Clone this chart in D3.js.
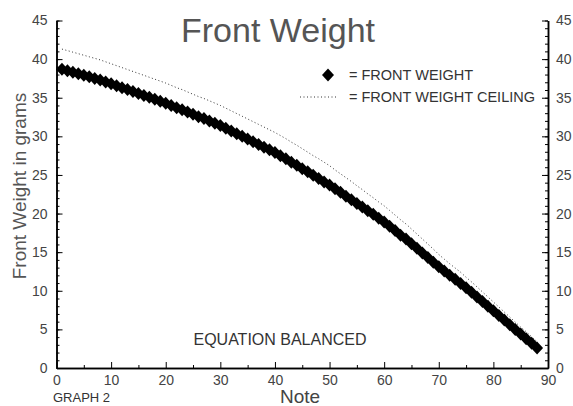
<!DOCTYPE html>
<html>
<head>
<meta charset="utf-8">
<script src="https://cdn.jsdelivr.net/npm/d3@7"></script>
<style>
  body { margin: 0; background: #fff; }
  svg text { font-family: "Liberation Sans", Arial, sans-serif; fill: #333; }
</style>
</head>
<body>
<div class="chart"></div>
<script>
// data (notes 1..88)
var notes = d3.range(1, 89)
var frontWeight = [
  38.7, 38.5, 38.3, 38.1, 37.9, 37.7, 37.5, 37.3, 37.05, 36.8,
  36.55, 36.3, 36.05, 35.8, 35.55, 35.3, 35.05, 34.8, 34.55, 34.3,
  34.0, 33.7, 33.45, 33.15, 32.85, 32.55, 32.3, 32.0, 31.7, 31.4,
  31.05, 30.7, 30.35, 30.0, 29.65, 29.3, 28.95, 28.6, 28.25, 27.9,
  27.5, 27.1, 26.65, 26.25, 25.8, 25.4, 24.95, 24.55, 24.1, 23.7,
  23.2, 22.75, 22.25, 21.8, 21.3, 20.85, 20.35, 19.9, 19.4, 18.9,
  18.35, 17.8, 17.2, 16.7, 16.1, 15.5, 14.9, 14.3, 13.7, 13.1,
  12.55, 12.0, 11.5, 10.95, 10.4, 9.8, 9.2, 8.6, 8.0, 7.4,
  6.8, 6.2, 5.6, 5.0, 4.4, 3.8, 3.2, 2.6
]
var ceiling = [
  41.3, 41.1, 40.9, 40.7, 40.5, 40.3, 40.1, 39.9, 39.65, 39.4,
  39.15, 38.9, 38.65, 38.4, 38.15, 37.9, 37.65, 37.4, 37.15, 36.9,
  36.6, 36.3, 36.05, 35.75, 35.45, 35.15, 34.9, 34.6, 34.3, 34.0,
  33.65, 33.3, 32.95, 32.6, 32.25, 31.9, 31.55, 31.2, 30.85, 30.5,
  30.1, 29.7, 29.25, 28.85, 28.4, 27.95, 27.5, 27.1, 26.65, 26.2,
  25.65, 25.15, 24.65, 24.15, 23.6, 23.1, 22.55, 22.05, 21.5, 21.0,
  20.4, 19.8, 19.2, 18.65, 18.0, 17.35, 16.7, 16.05, 15.4, 14.7,
  14.1, 13.5, 12.95, 12.4, 11.75, 11.15, 10.5, 9.85, 9.2, 8.55,
  7.9, 7.25, 6.6, 5.95, 5.3, 4.7, 4.05, 3.4
]
var xTicks = [0, 10, 20, 30, 40, 50, 60, 70, 80, 90]
var xMinor = [5, 15, 25, 35, 45, 55, 65, 75, 85]
var yTicks = [0, 5, 10, 15, 20, 25, 30, 35, 40, 45]
var yMinor = d3.range(0, 46)

var w = 573
var h = 406
var mLeft = 56.5, mRight = 548, mTop = 20.5, mBottom = 368

var svg = d3.select(".chart").append("svg")
    .attr("width", w)
    .attr("height", h)

var xScale = d3.scaleLinear().domain([0, 90]).range([mLeft, mRight])
var yScale = d3.scaleLinear().domain([0, 45]).range([mBottom, mTop])

// minor ticks
svg.append("g")
  .attr("transform", "translate(" + mLeft + ",0)")
  .call(d3.axisLeft(yScale).tickValues(yMinor).tickSize(-3).tickSizeOuter(0).tickFormat(""))
svg.append("g")
  .attr("transform", "translate(" + mRight + ",0)")
  .call(d3.axisRight(yScale).tickValues(yMinor).tickSize(-3).tickSizeOuter(0).tickFormat(""))
svg.append("g")
  .attr("transform", "translate(0," + mBottom + ")")
  .call(d3.axisBottom(xScale).tickValues(xMinor).tickSize(-3).tickSizeOuter(0).tickFormat(""))

// major ticks + labels
svg.append("g")
  .attr("transform", "translate(" + mLeft + ",0)")
  .call(d3.axisLeft(yScale).tickValues(yTicks).tickSize(-6).tickSizeOuter(0).tickPadding(9))
svg.append("g")
  .attr("transform", "translate(" + mRight + ",0)")
  .call(d3.axisRight(yScale).tickValues(yTicks).tickSize(-6).tickSizeOuter(0).tickPadding(8))
svg.append("g")
  .attr("transform", "translate(0," + mBottom + ")")
  .call(d3.axisBottom(xScale).tickValues(xTicks).tickSize(-6).tickSizeOuter(0).tickPadding(7))

svg.selectAll(".domain").attr("stroke", "#000").attr("stroke-width", 1.5)
svg.selectAll(".tick line").attr("stroke", "#000")
svg.selectAll(".tick text")
  .style("font-size", "14px")
  .style("fill", "#444")
  .attr("font-family", null)

// ceiling (dotted)
var line = d3.line()
  .x(function(d, i){ return xScale(notes[i]) })
  .y(function(d){ return yScale(d) })

svg.append("path")
  .datum(ceiling)
  .attr("d", line)
  .attr("fill", "none")
  .attr("stroke", "#333")
  .attr("stroke-width", 1)
  .attr("stroke-dasharray", "1,2.5")

// diamonds
function diamond(cx, cy) {
  return "M" + cx + "," + (cy - 6.5) + "L" + (cx + 6) + "," + cy +
         "L" + cx + "," + (cy + 6.5) + "L" + (cx - 6) + "," + cy + "Z"
}
svg.append("g")
  .selectAll("path")
  .data(frontWeight)
  .enter()
  .append("path")
  .attr("d", function(d, i){ return diamond(xScale(notes[i]), yScale(d)) })
  .attr("fill", "#000")

// legend
svg.append("path").attr("d", diamond(328, 75)).attr("fill", "#000")
svg.append("text").attr("x", 349).attr("y", 80).style("font-size", "14.5px").text("= FRONT WEIGHT")
svg.append("line")
  .attr("x1", 300).attr("x2", 338).attr("y1", 97).attr("y2", 97)
  .attr("stroke", "#333").attr("stroke-dasharray", "1,2.5")
svg.append("text").attr("x", 349).attr("y", 102).style("font-size", "14.5px").text("= FRONT WEIGHT CEILING")

// titles
svg.append("text")
  .attr("x", 278).attr("y", 42)
  .attr("text-anchor", "middle")
  .style("font-size", "34px")
  .style("fill", "#555")
  .text("Front Weight")

svg.append("text")
  .attr("transform", "translate(26,186) rotate(-90)")
  .attr("text-anchor", "middle")
  .style("font-size", "19px")
  .style("fill", "#555")
  .text("Front Weight in grams")

svg.append("text")
  .attr("x", 300).attr("y", 403)
  .attr("text-anchor", "middle")
  .style("font-size", "19px")
  .style("fill", "#444")
  .text("Note")

svg.append("text")
  .attr("x", 53).attr("y", 402)
  .style("font-size", "13px")
  .text("GRAPH 2")

svg.append("text")
  .attr("x", 280).attr("y", 345)
  .attr("text-anchor", "middle")
  .style("font-size", "16px")
  .text("EQUATION BALANCED")
</script>
</body>
</html>
